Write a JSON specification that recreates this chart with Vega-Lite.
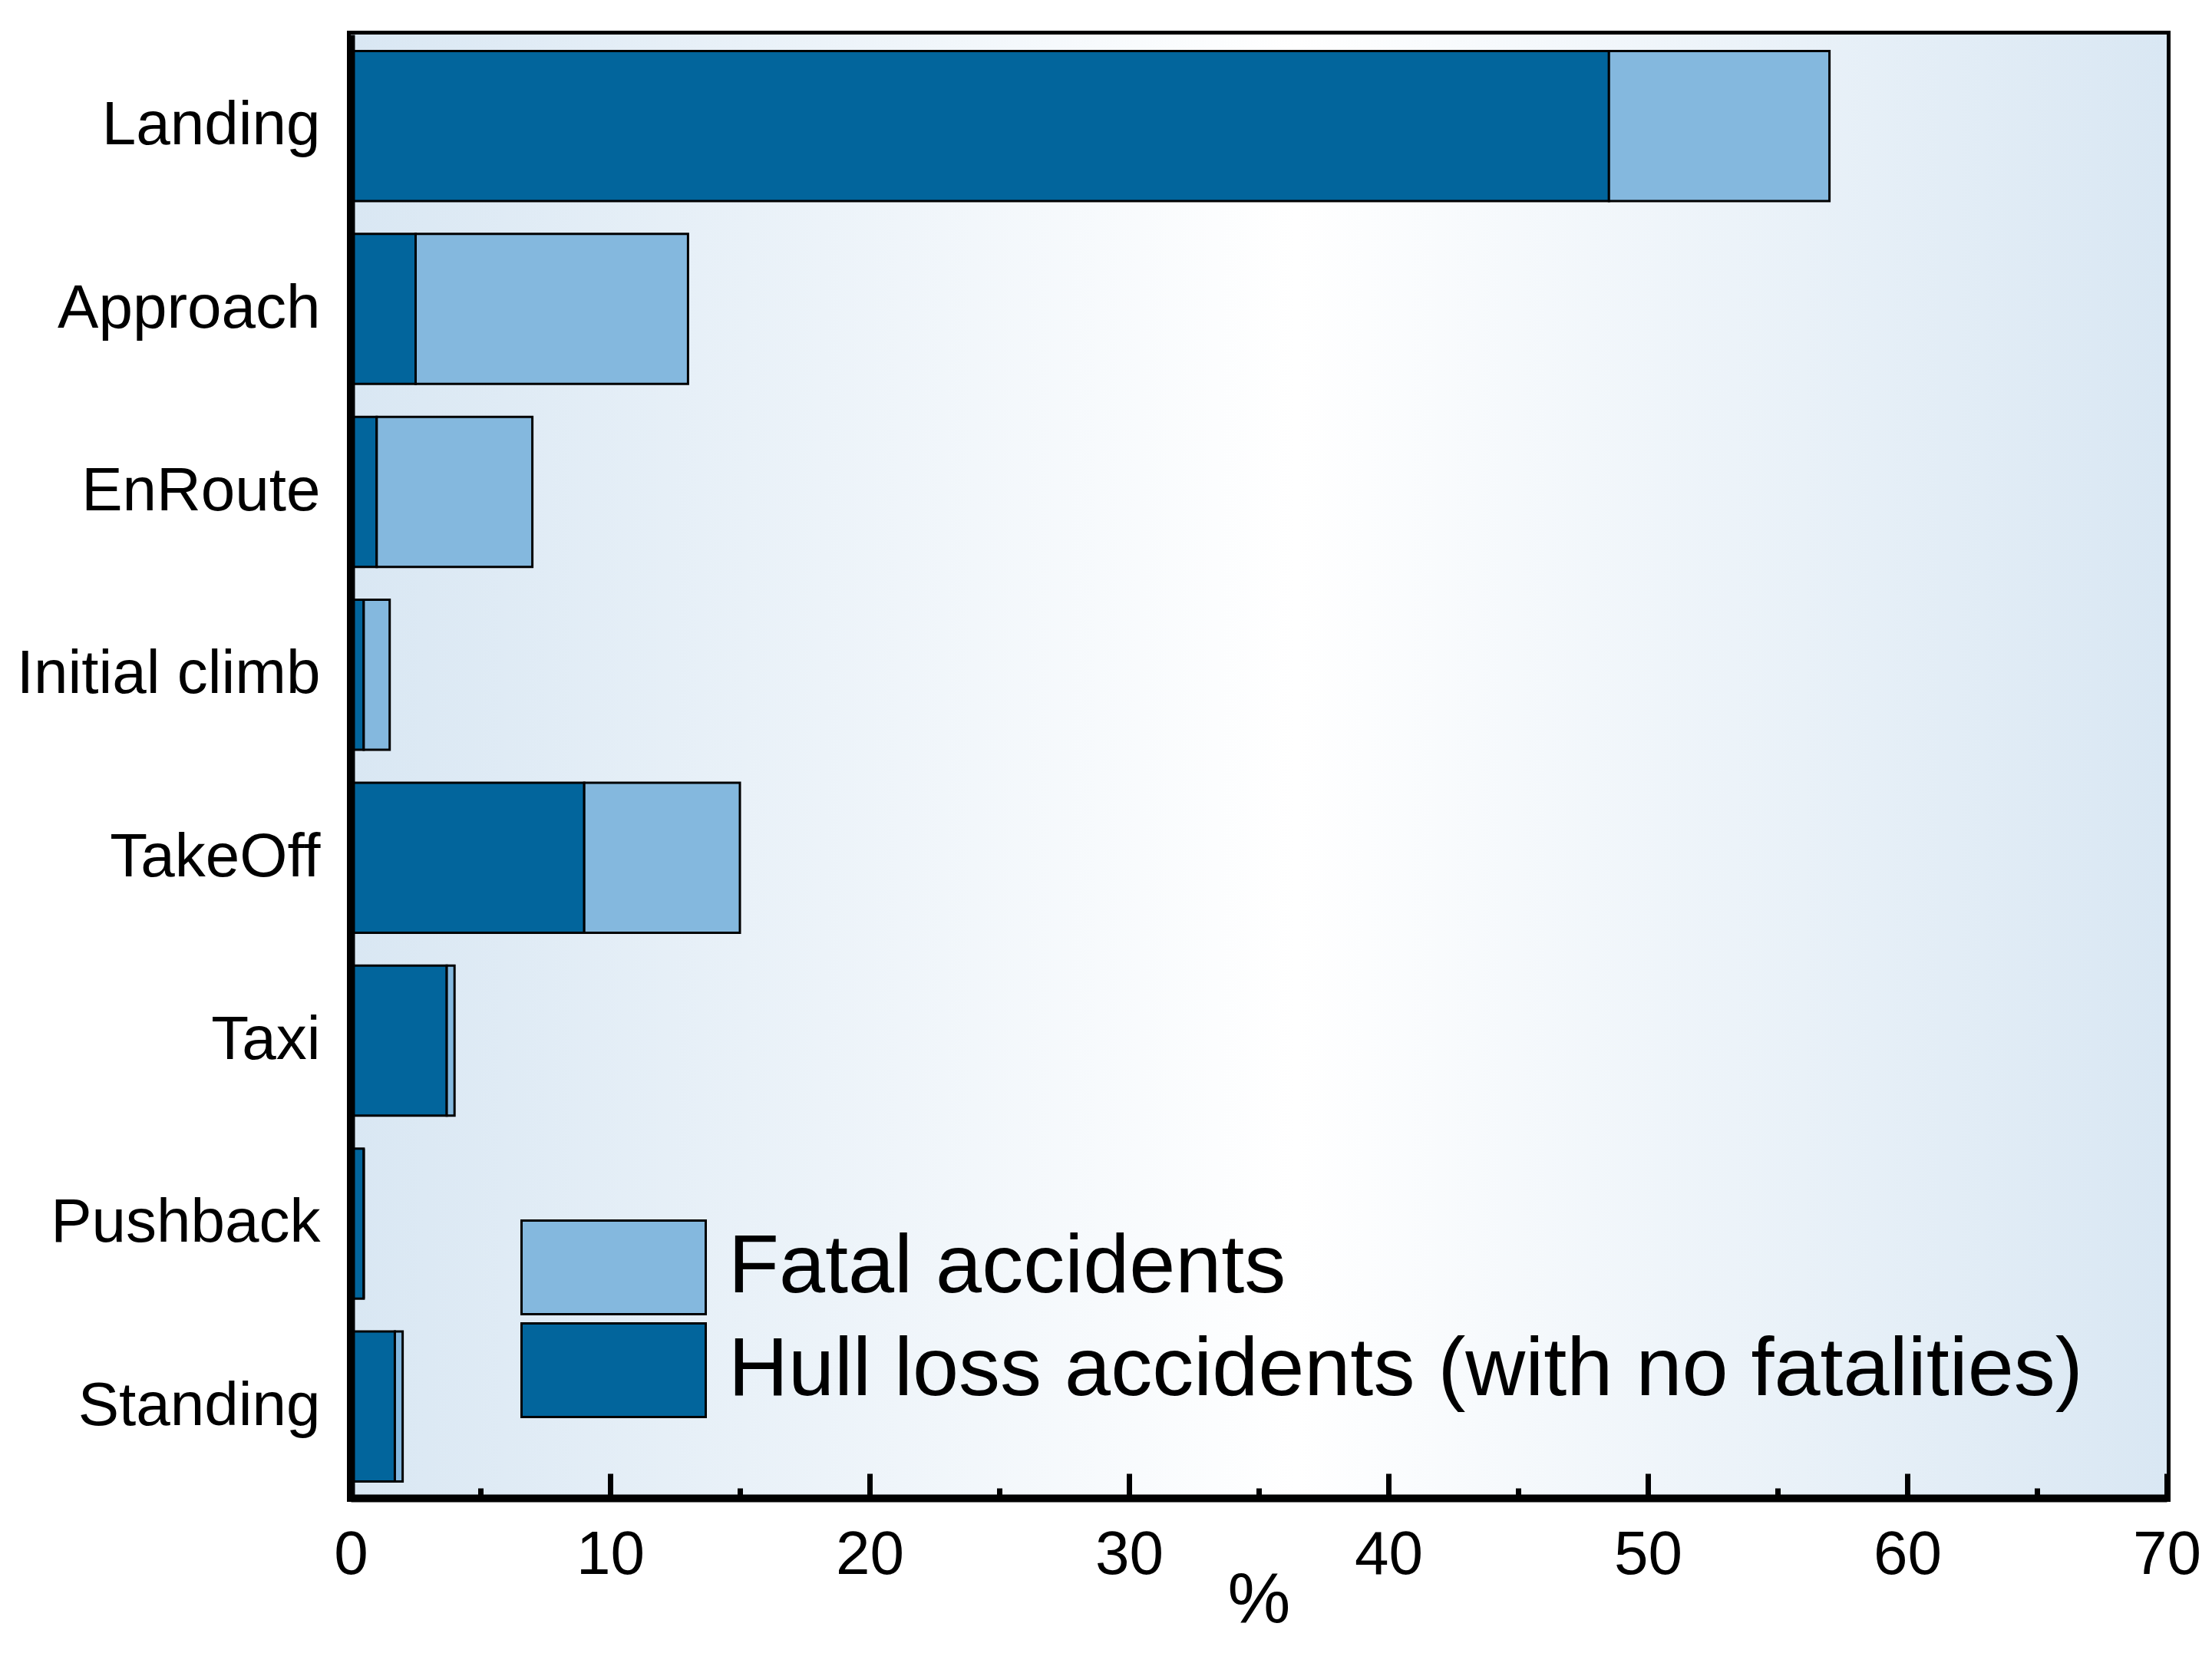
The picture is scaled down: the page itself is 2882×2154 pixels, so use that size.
{
  "$schema": "https://vega.github.io/schema/vega-lite/v6.json",
  "width": 2366,
  "height": 1907,
  "autosize": "none",
  "padding": {"left": 457, "top": 45, "right": 59, "bottom": 202},
  "background": "white",
  "config": {"view": {"stroke": "black", "strokeWidth": 10}, "font": "Liberation Sans"},
  "layer": [
    {
      "data": {"values": [{"part": "background"}]},
      "mark": {"type": "rect", "fill": {"gradient": "linear", "x1": 0, "x2": 1, "y1": 0, "y2": 0, "stops": [{"offset": 0, "color": "#d9e7f3"}, {"offset": 0.52, "color": "#ffffff"}, {"offset": 1, "color": "#d9e7f3"}]}},
      "encoding": {
        "x": {"datum": 0, "type": "quantitative", "scale": {"domain": [0, 70], "nice": false},
          "axis": {"title": "%", "titleFontSize": 92, "titleFontWeight": "normal", "titleColor": "black", "titlePadding": -45,
            "values": [0, 5, 10, 15, 20, 25, 30, 35, 40, 45, 50, 55, 60, 65, 70],
            "labelExpr": "datum.value % 10 === 0 ? datum.label : ''",
            "labelFontSize": 80, "labelColor": "black", "labelPadding": 67, "labelFlush": false, "labelOverlap": false,
            "tickSize": {"condition": {"test": "datum.value % 10 === 0", "value": -32}, "value": -13},
            "tickWidth": 7, "tickColor": "black", "domain": true, "domainWidth": 10, "domainColor": "black", "grid": false, "zindex": 1}},
        "x2": {"datum": 70}
      }
    },
    {
      "data": {"values": [
        {"phase": "Landing", "type": "Hull loss accidents (with no fatalities)", "value": 48.5},
        {"phase": "Landing", "type": "Fatal accidents", "value": 8.5},
        {"phase": "Approach", "type": "Hull loss accidents (with no fatalities)", "value": 2.5},
        {"phase": "Approach", "type": "Fatal accidents", "value": 10.5},
        {"phase": "EnRoute", "type": "Hull loss accidents (with no fatalities)", "value": 1.0},
        {"phase": "EnRoute", "type": "Fatal accidents", "value": 6.0},
        {"phase": "Initial climb", "type": "Hull loss accidents (with no fatalities)", "value": 0.5},
        {"phase": "Initial climb", "type": "Fatal accidents", "value": 1.0},
        {"phase": "TakeOff", "type": "Hull loss accidents (with no fatalities)", "value": 9.0},
        {"phase": "TakeOff", "type": "Fatal accidents", "value": 6.0},
        {"phase": "Taxi", "type": "Hull loss accidents (with no fatalities)", "value": 3.7},
        {"phase": "Taxi", "type": "Fatal accidents", "value": 0.3},
        {"phase": "Pushback", "type": "Hull loss accidents (with no fatalities)", "value": 0.5},
        {"phase": "Pushback", "type": "Fatal accidents", "value": 0.0},
        {"phase": "Standing", "type": "Hull loss accidents (with no fatalities)", "value": 1.7},
        {"phase": "Standing", "type": "Fatal accidents", "value": 0.3}
      ]},
      "mark": {"type": "bar", "stroke": "black", "strokeWidth": 3, "opacity": 1},
      "encoding": {
        "y": {"field": "phase", "type": "nominal",
          "sort": ["Landing", "Approach", "EnRoute", "Initial climb", "TakeOff", "Taxi", "Pushback", "Standing"],
          "scale": {"paddingInner": 0.18, "paddingOuter": 0.09},
          "axis": {"title": null, "ticks": false, "labelFontSize": 80, "labelColor": "black", "labelPadding": 40, "labelLimit": 1000,
            "domain": true, "domainWidth": 10, "domainColor": "black", "zindex": 1}},
        "x": {"field": "value", "type": "quantitative", "stack": "zero", "scale": {"domain": [0, 70], "nice": false},
          "axis": {"title": "%", "titleFontSize": 92, "titleFontWeight": "normal", "titleColor": "black", "titlePadding": -45,
            "values": [0, 5, 10, 15, 20, 25, 30, 35, 40, 45, 50, 55, 60, 65, 70],
            "labelExpr": "datum.value % 10 === 0 ? datum.label : ''",
            "labelFontSize": 80, "labelColor": "black", "labelPadding": 67, "labelFlush": false, "labelOverlap": false,
            "tickSize": {"condition": {"test": "datum.value % 10 === 0", "value": -32}, "value": -13},
            "tickWidth": 7, "tickColor": "black", "domain": true, "domainWidth": 10, "domainColor": "black", "grid": false, "zindex": 1}},
        "color": {"field": "type", "type": "nominal",
          "scale": {"domain": ["Fatal accidents", "Hull loss accidents (with no fatalities)"], "range": ["#84b8de", "#02659c"]},
          "legend": {"title": null, "orient": "none", "legendX": 281, "legendY": 1545,
            "symbolType": "M-2,-1.016H2V1.016H-2Z", "symbolSize": 14400, "symbolStrokeColor": "black", "symbolStrokeWidth": 3,
            "symbolOpacity": 1, "labelFontSize": 108, "labelOffset": 88, "labelLimit": 3000, "rowPadding": -1, "labelColor": "black"}},
        "order": {"field": "type", "sort": "descending"}
      }
    }
  ]
}
